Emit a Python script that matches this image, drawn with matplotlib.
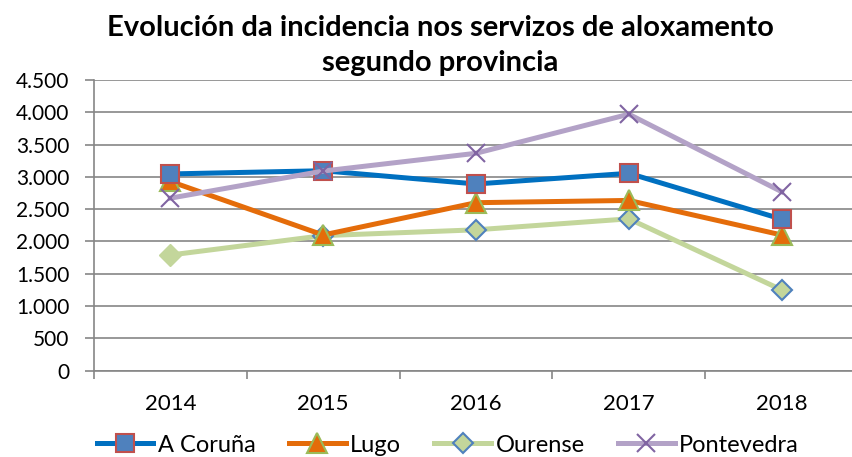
import matplotlib.pyplot as plt
from matplotlib.ticker import FuncFormatter, FixedLocator
from matplotlib.lines import Line2D

plt.rcParams['font.family'] = ['Lato', 'DejaVu Sans']

years = ['2014', '2015', '2016', '2017', '2018']
coruna = [3045, 3095, 2890, 3055, 2345]
lugo = [2930, 2100, 2600, 2635, 2100]
ourense = [1790, 2090, 2180, 2350, 1250]
pontevedra = [2670, 3090, 3365, 3970, 2770]

fig = plt.figure(figsize=(8.53, 4.57), dpi=100)
ax = fig.add_axes([0.110, 0.189, 0.896, 0.636])

x = [i + 0.5 for i in range(len(years))]

ax.plot(x, coruna, color='#0070C0', lw=3.6, marker='s', ms=13,
        mfc='#4F81BD', mec='#C0504D', mew=1.5, zorder=4)
ax.plot(x, lugo, color='#E46C0A', lw=3.6, marker='^', ms=14,
        mfc='#E46C0A', mec='#9BBB59', mew=1.5, zorder=3)
ax.plot(x, ourense, color='#C3D69B', lw=3.6, marker='D', ms=10,
        mfc='#C3D69B', mec='#4F81BD', mew=1.5, markevery=[1, 2, 3, 4], zorder=2)
ax.plot(x[:1], ourense[:1], ls='none', marker='D', ms=11,
        mfc='#C3D69B', mec='#C3D69B', zorder=2)
ax.plot(x, pontevedra, color='#B3A2C7', lw=3.6, marker='x', ms=13,
        mec='#8064A2', mew=1.5, zorder=5)

ax.set_xlim(0, 5)
ax.set_ylim(0, 4500)
ax.set_yticks(range(0, 4501, 500))
ax.yaxis.set_major_formatter(FuncFormatter(lambda v, p: f'{int(v):,}'.replace(',', '.')))
ax.grid(axis='y', color='#868686', lw=1.2)
ax.set_axisbelow(True)

ax.xaxis.set_major_locator(FixedLocator(range(6)))
ax.xaxis.set_minor_locator(FixedLocator(x))
ax.set_xticklabels([])
ax.set_xticklabels(years, minor=True)
ax.tick_params(axis='x', which='major', length=6, color='#868686', width=1.2)
ax.tick_params(axis='x', which='minor', length=0, labelsize=16, pad=17)
ax.tick_params(axis='y', length=6.5, color='#868686', width=1.2, labelsize=15, pad=11)

for s in ['top', 'right']:
    ax.spines[s].set_visible(False)
for s in ['left', 'bottom']:
    ax.spines[s].set_color('#868686')
    ax.spines[s].set_linewidth(1.2)

fig.text(0.516, 0.967, 'Evolución da incidencia nos servizos de aloxamento\nsegundo provincia',
         ha='center', va='top', fontsize=21, fontweight='bold', linespacing=1.42)

handles = [
    Line2D([], [], color='#0070C0', lw=3.6, marker='s', ms=13, mfc='#4F81BD', mec='#C0504D', mew=1.5),
    Line2D([], [], color='#E46C0A', lw=3.6, marker='^', ms=14, mfc='#E46C0A', mec='#9BBB59', mew=1.5),
    Line2D([], [], color='#C3D69B', lw=3.6, marker='D', ms=10, mfc='#C3D69B', mec='#4F81BD', mew=1.5),
    Line2D([], [], color='#B3A2C7', lw=3.6, marker='x', ms=13, mec='#8064A2', mew=1.5),
]
fig.legend(handles, ['A Coruña', 'Lugo', 'Ourense', 'Pontevedra'], loc='center',
           bbox_to_anchor=(0.525, 0.026), ncol=4, frameon=False, fontsize=17,
           handlelength=2.4, handletextpad=0.2, columnspacing=1.4, borderpad=0)

fig.savefig('out.png', dpi=100)
